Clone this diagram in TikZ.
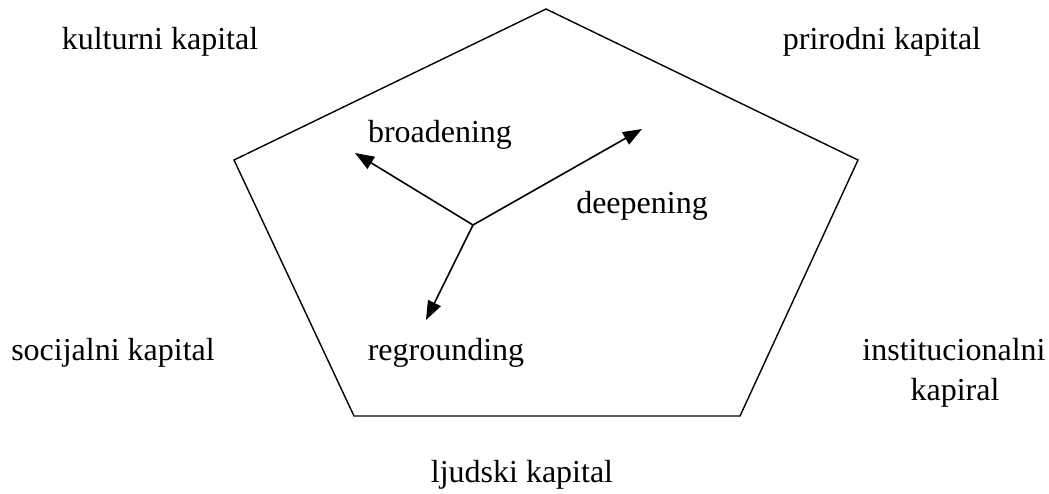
\documentclass[tikz,border=0pt]{standalone}
\usepackage{fontspec}
\setmainfont{Liberation Serif}
\usetikzlibrary{arrows.meta}
\begin{document}
\begin{tikzpicture}[x=1pt,y=-1pt,
  lbl/.style={anchor=base,inner sep=0pt,font=\fontsize{32}{40}\selectfont,align=center},
  edge/.style={line width=1.4pt},
  flow/.style={line width=1.6pt,-{Triangle[length=19pt,width=14pt]}}]
\useasboundingbox (0,0) rectangle (1049,493);
% pentagon of the five capitals
\coordinate (pT) at (546,9);
\coordinate (pR) at (858,160);
\coordinate (pBR) at (740,416);
\coordinate (pBL) at (354,416);
\coordinate (pL) at (234,160);
\draw[edge,line join=miter] (pT) -- (pR) -- (pBR) -- (pBL) -- (pL) -- cycle;
% capital labels
\node[lbl] (kult) at (160,49) {kulturni kapital};
\node[lbl] (prir) at (882,49) {prirodni kapital};
\node[lbl] (soc) at (113,360) {socijalni kapital};
\node[lbl] (inst) at (954,360) {institucionalni};
\node[lbl] (kap) at (955,400) {kapiral};
\node[lbl] (ljud) at (522,482) {ljudski kapital};
% directions of change
\coordinate (o) at (473,225);
\coordinate (tB) at (355,153);
\coordinate (tD) at (642,129);
\coordinate (tR) at (426,320);
\draw[flow] (o) -- (tB);
\draw[flow] (o) -- (tD);
\draw[flow] (o) -- (tR);
\node[lbl] (broad) at (440,142) {broadening};
\node[lbl] (deep) at (642,213) {deepening};
\node[lbl] (regr) at (446,360) {regrounding};
\end{tikzpicture}
\end{document}
